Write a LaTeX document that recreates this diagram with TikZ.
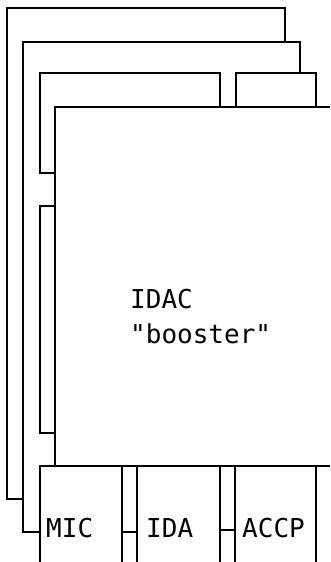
\documentclass[tikz,border=0pt]{standalone}
\usepackage{fontspec}
\setmonofont{DejaVu Sans Mono}

\tikzstyle{card}=[line width=2pt]
\tikzstyle{lbl}=[inner sep=0pt,anchor=base west,font=\ttfamily\fontsize{26}{30}\selectfont]

\begin{document}
\begin{tikzpicture}[x=1pt,y=-1pt]
        \useasboundingbox (0,0) rectangle (330,562);

        % cards behind
        \draw[card] (22,499) -- (7,499) -- (7,8) -- (285,8) -- (285,42);
        \draw[card] (40,532) -- (23,532) -- (23,42) -- (300,42) -- (300,73);
        \draw[card] (55,173) -- (40,173) -- (40,73) -- (220,73) -- (220,107);
        \draw[card] (55,206) -- (40,206) -- (40,433) -- (55,433);
        \draw[card] (236,107) -- (236,73) -- (316,73) -- (316,107);

        % front card
        \draw[card] (330,107) -- (55,107) -- (55,466);
        \draw[card] (330,466) -- (40,466) -- (40,562);
        \node[lbl] (idac) at (130,308) {IDAC};
        \node[lbl] (booster) at (130,343) {\textquotedbl booster\textquotedbl};

        % tabs
        \draw[card] (122,466) -- (122,562);
        \draw[card] (137,466) -- (137,562);
        \draw[card] (220,466) -- (220,562);
        \draw[card] (235,466) -- (235,562);
        \draw[card] (316,466) -- (316,562);
        \draw[card] (122,532) -- (137,532);
        \draw[card] (220,530) -- (235,530);
        \node[lbl] (mic) at (46,537) {MIC};
        \node[lbl] (ida) at (146,537) {IDA};
        \node[lbl] (accp) at (242,537) {ACCP};
    \end{tikzpicture}
\end{document}
